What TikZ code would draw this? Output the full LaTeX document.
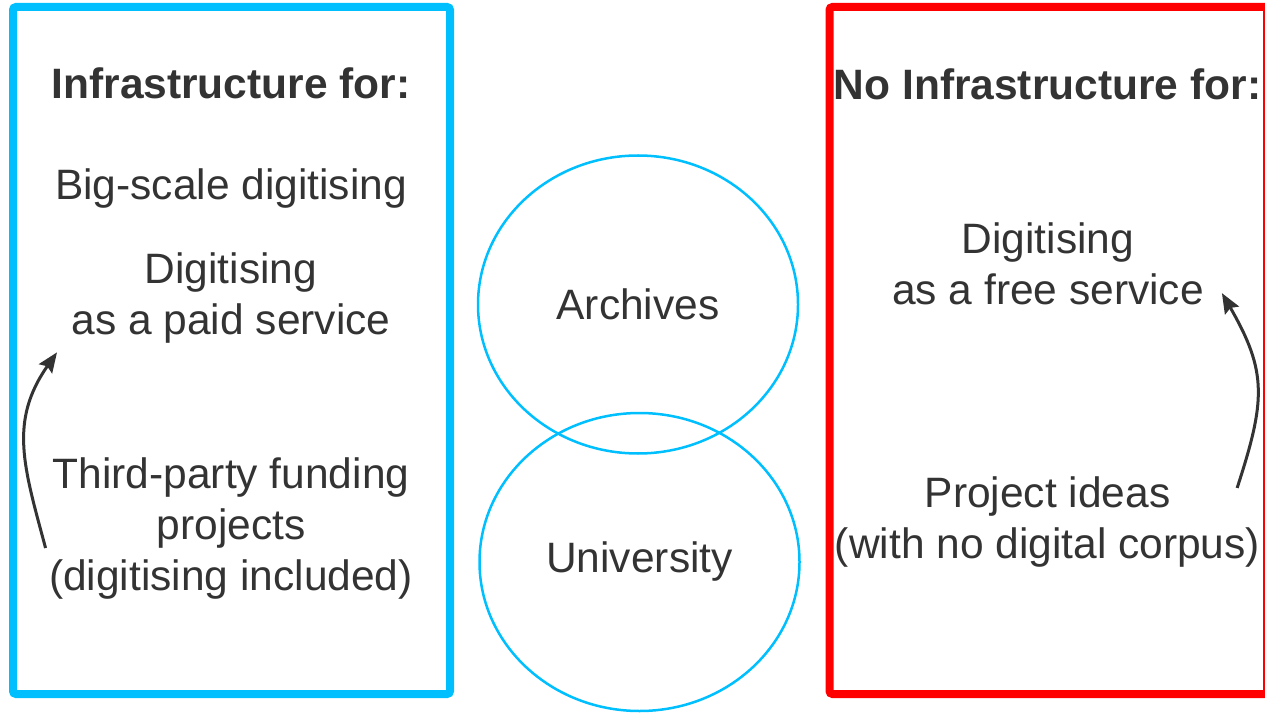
\documentclass[tikz,border=0pt]{standalone}
\usepackage{fontspec}
\setmainfont{Liberation Sans}
\usetikzlibrary{calc,positioning,arrows,fit,shapes}
\usetikzlibrary{arrows.meta}
\definecolor{infblue}{RGB}{0,191,255}
\definecolor{noinfred}{RGB}{255,0,0}
\definecolor{txtgray}{RGB}{51,51,51}
\tikzset{frame/.style={draw,line width=8pt,rounded corners=3pt},ring/.style={draw=infblue,ellipse,line
width=2.5pt,minimum width=320pt,minimum height=298pt,inner sep=0pt,text=txtgray,font=\fontsize{42.5}{51}\selectfont},lbl/.style={align=center,text=txtgray,font=\fontsize{42.5}{51}\selectfont},arr/.style={-{Stealth[length=20pt,width=16pt,inset=3pt]},line
width=3pt,draw=txtgray}}

\begin{document}
\begin{tikzpicture}[x=1pt,y=1pt]
		\useasboundingbox (0,0) rectangle (1265,713);
		\draw[frame,infblue] (13,706) rectangle (450,19);
		\draw[frame,noinfred] (829.5,706) rectangle (1267,19);
		\node[ring] (arch) at (638,408.5) {Archives};
		\node[ring] (uni) at (639.5,151) {University};
		\node[lbl,anchor=base,font=\bfseries\fontsize{42.5}{51}\selectfont] (infra) at (231,614) {Infrastructure for:};
		\node[lbl,anchor=base] (big) at (231,513) {Big-scale digitising};
		\node[lbl] (paid) at (231,414.5) {Digitising\\as a paid service};
		\node[lbl] (fund) at (231,184) {Third-party funding\\projects\\(digitising included)};
		\node[lbl,anchor=base,font=\bfseries\fontsize{42.5}{51}\selectfont] (noinfra) at (1047.5,613) {No Infrastructure for:};
		\node[lbl] (free) at (1048,449.5) {Digitising\\as a free service};
		\node[lbl] (idea) at (1047.5,190.5) {Project ideas\\(with no digital corpus)};
		\draw[arr] ([yshift=-19pt]fund.west) to[out=105,in=235,looseness=1.1] ([xshift=-11pt,yshift=-5pt]paid.south west);
		\draw[arr] ([xshift=-26.5pt,yshift=-14.3pt]idea.north east) to[out=72,in=300,looseness=1.2] ([xshift=14.5pt,yshift=15pt]free.south east);
	\end{tikzpicture}
\end{document}
